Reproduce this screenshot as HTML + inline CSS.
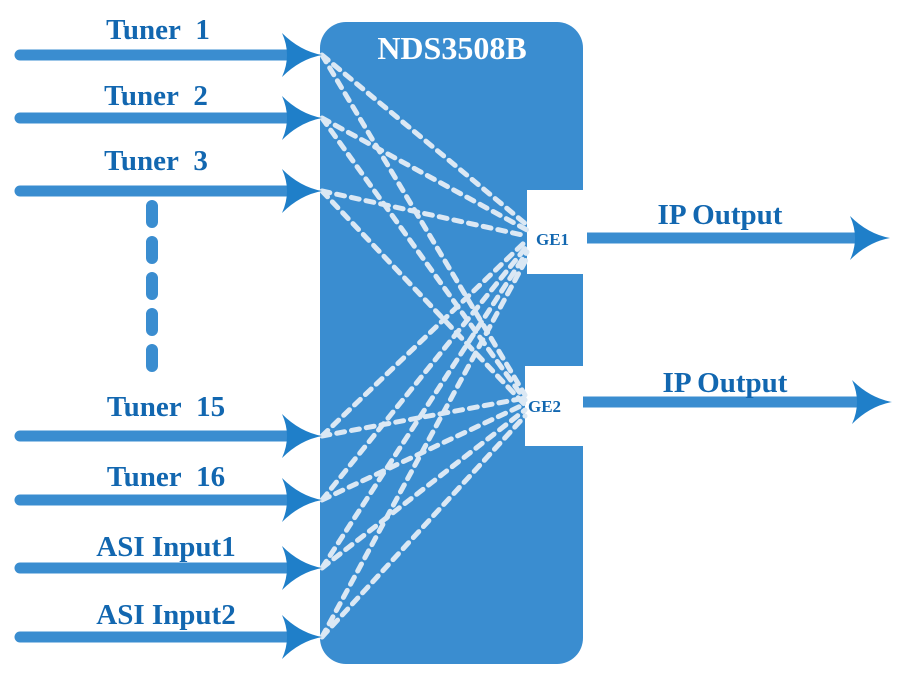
<!DOCTYPE html>
<html><head><style>
html,body{margin:0;padding:0;background:#fff;width:908px;height:677px;overflow:hidden}
svg text{font-family:"Liberation Serif","Times New Roman",serif;font-weight:bold}
</style></head><body>
<svg width="908" height="677" xmlns="http://www.w3.org/2000/svg">
<defs>
<g id="ah"><path d="M0,0 Q-22,-4 -40,-22 Q-30,0 -40,22 Q-22,4 0,0Z" fill="#1f7fc9"/></g>
</defs>
<rect x="320" y="22" width="263" height="642" rx="26" fill="#3a8dd0"/>
<rect x="527" y="190" width="60" height="84" fill="#fff"/>
<rect x="525" y="366" width="62" height="80" fill="#fff"/>
<text x="452" y="59" font-size="32" fill="#fff" text-anchor="middle">NDS3508B</text>
<text x="536" y="245" font-size="17" fill="#1267b0">GE1</text>
<text x="528" y="412" font-size="17" fill="#1267b0">GE2</text>
<g stroke="#dbe8f4" stroke-width="5" stroke-dasharray="8 7" stroke-linecap="round" fill="none">
<path d="M322,55 L527,225 M322,55 L525,395"/>
<path d="M322,118 L527,230 M322,118 L525,400"/>
<path d="M322,191 L527,236 M322,191 L525,405"/>
<path d="M322,436 L527,240 M322,436 L525,398"/>
<path d="M322,500 L527,246 M322,500 L525,404"/>
<path d="M322,568 L527,252 M322,568 L525,410"/>
<path d="M322,637 L527,258 M322,637 L525,416"/>
</g>
<g stroke="#3a8dd0" stroke-width="11" stroke-linecap="round">
<line x1="20" y1="55" x2="290" y2="55"/>
<line x1="20" y1="118" x2="290" y2="118"/>
<line x1="20" y1="191" x2="290" y2="191"/>
<line x1="20" y1="436" x2="290" y2="436"/>
<line x1="20" y1="500" x2="290" y2="500"/>
<line x1="20" y1="568" x2="290" y2="568"/>
<line x1="20" y1="637" x2="290" y2="637"/>
<line x1="587" y1="238" x2="860" y2="238" stroke-linecap="butt"/>
<line x1="583" y1="402" x2="860" y2="402" stroke-linecap="butt"/>
</g>
<line x1="152" y1="206" x2="152" y2="380" stroke="#3a8dd0" stroke-width="12" stroke-linecap="round" stroke-dasharray="16 20"/>
<use href="#ah" x="322" y="55"/><use href="#ah" x="322" y="118"/><use href="#ah" x="322" y="191"/>
<use href="#ah" x="322" y="436"/><use href="#ah" x="322" y="500"/><use href="#ah" x="322" y="568"/><use href="#ah" x="322" y="637"/>
<use href="#ah" x="890" y="238"/><use href="#ah" x="892" y="402"/>
<g font-size="29" fill="#1267b0" text-anchor="middle">
<text x="158" y="39">Tuner&#160; 1</text>
<text x="156" y="105">Tuner&#160; 2</text>
<text x="156" y="170">Tuner&#160; 3</text>
<text x="166" y="416">Tuner&#160; 15</text>
<text x="166" y="486">Tuner&#160; 16</text>
<text x="166" y="556">ASI Input1</text>
<text x="166" y="624">ASI Input2</text>
<text x="720" y="224">IP Output</text>
<text x="725" y="392">IP Output</text>
</g>
</svg>
</body></html>
